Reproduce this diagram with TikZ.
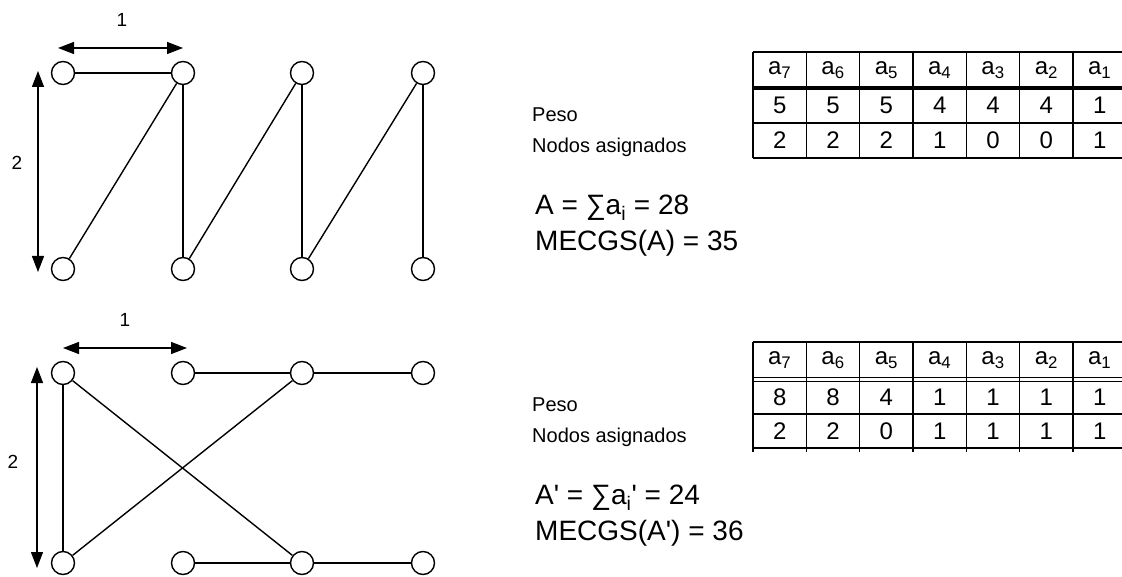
\documentclass[tikz,border=0pt]{standalone}
\usepackage{fontspec}
\setmainfont{Liberation Sans}[Ligatures=TeXOff]
\usetikzlibrary{arrows.meta}

\begin{document}
\begin{tikzpicture}[x=1pt, y=-1pt,
        vert/.style={circle, draw, line width=1.4pt, minimum size=23pt, inner sep=0pt, fill=white},
        edge/.style={line width=1.4pt},
        dim/.style={{Triangle[length=16pt,width=12pt]}-{Triangle[length=16pt,width=12pt]}, line width=1.4pt},
        lbl/.style={font=\fontsize{19}{19}\selectfont, inner sep=0pt},
        txt/.style={anchor=west, font=\fontsize{20}{24}\selectfont, inner sep=0pt},
        cell/.style={font=\fontsize{24}{24}\selectfont, inner sep=0pt},
        eq/.style={anchor=west, font=\fontsize{28}{30}\selectfont, inner sep=0pt},
        rule/.style={line width=1.6pt}
    ]
        \useasboundingbox (0,0) rectangle (1122,577);

        % Graph A
        \node[vert] (u1) at (63,73) {};
        \node[vert] (u2) at (183,73) {};
        \node[vert] (u3) at (302,73) {};
        \node[vert] (u4) at (423,73) {};
        \node[vert] (d1) at (63,269) {};
        \node[vert] (d2) at (183,269) {};
        \node[vert] (d3) at (302,269) {};
        \node[vert] (d4) at (423,269) {};

        \draw[edge] (u1) -- (u2);
        \draw[edge] (d1) -- (u2);
        \draw[edge] (u2) -- (d2);
        \draw[edge] (d2) -- (u3);
        \draw[edge] (u3) -- (d3);
        \draw[edge] (d3) -- (u4);
        \draw[edge] (u4) -- (d4);

        % Spacing of graph A
        \coordinate (ha1) at (58,48);
        \coordinate (ha2) at (183,48);
        \coordinate (va1) at (38,71);
        \coordinate (va2) at (38,272);
        \draw[dim] (ha1) -- (ha2);
        \draw[dim] (va1) -- (va2);
        \node[lbl] (wa) at (122,20) {1};
        \node[lbl] (ta) at (17,163) {2};

        % Graph A'
        \node[vert] (p1) at (63,373) {};
        \node[vert] (p2) at (183,373) {};
        \node[vert] (p3) at (302,373) {};
        \node[vert] (p4) at (423,373) {};
        \node[vert] (q1) at (63,563) {};
        \node[vert] (q2) at (183,563) {};
        \node[vert] (q3) at (302,563) {};
        \node[vert] (q4) at (423,563) {};

        \draw[edge] (p1) -- (q1);
        \draw[edge] (p1) -- (q3);
        \draw[edge] (q1) -- (p3);
        \draw[edge] (p2) -- (p3);
        \draw[edge] (p3) -- (p4);
        \draw[edge] (q2) -- (q3);
        \draw[edge] (q3) -- (q4);

        % Spacing of graph A'
        \coordinate (hb1) at (63,348);
        \coordinate (hb2) at (187,348);
        \coordinate (vb1) at (37,367);
        \coordinate (vb2) at (37,568);
        \draw[dim] (hb1) -- (hb2);
        \draw[dim] (vb1) -- (vb2);
        \node[lbl] (wb) at (125,320) {1};
        \node[lbl] (tb) at (13,462) {2};

        % Table for A
        \draw[rule] (753,52) -- (1122,52);
        \draw[line width=3.6pt] (753,88) -- (1122,88);
        \draw[rule] (753,123) -- (1122,123);
        \draw[rule] (753,158) -- (1122,158);
        \foreach \k in {0,...,6}
            \draw[rule] (753+53.33*\k,52) -- (753+53.33*\k,158);
        \foreach \v/\k in {7/0,6/1,5/2,4/3,3/4,2/5,1/6}
            \node[cell] (ha\v) at (779.7+53.33*\k,70) {a\textsubscript{\v}};
        \foreach \v [count=\k from 0] in {5,5,5,4,4,4,1}
            \node[cell] (wa\k) at (779.7+53.33*\k,105.5) {\v};
        \foreach \v [count=\k from 0] in {2,2,2,1,0,0,1}
            \node[cell] (na\k) at (779.7+53.33*\k,140.5) {\v};

        \node[txt] (pesoa) at (532,115) {Peso};
        \node[txt] (nodosa) at (532,147) {Nodos asignados};
        \node[eq] (suma) at (535,208) {A = ∑a\textsubscript{i} = 28};
        \node[eq] (meca) at (535,243) {MECGS(A) = 35};

        % Table for A'
        \draw[rule] (753,342) -- (1122,342);
        \draw[line width=1pt] (753,377) -- (1122,377);
        \draw[line width=1pt] (753,381) -- (1122,381);
        \draw[rule] (753,414) -- (1122,414);
        \draw[rule] (753,448) -- (1122,448);
        \foreach \k in {0,...,6}
            \draw[rule] (753+53.33*\k,342) -- (753+53.33*\k,452);
        \foreach \v/\k in {7/0,6/1,5/2,4/3,3/4,2/5,1/6}
            \node[cell] (hb\v) at (779.7+53.33*\k,360) {a\textsubscript{\v}};
        \foreach \v [count=\k from 0] in {8,8,4,1,1,1,1}
            \node[cell] (wb\k) at (779.7+53.33*\k,397.5) {\v};
        \foreach \v [count=\k from 0] in {2,2,0,1,1,1,1}
            \node[cell] (nb\k) at (779.7+53.33*\k,431) {\v};

        \node[txt] (pesob) at (532,405) {Peso};
        \node[txt] (nodosb) at (532,437) {Nodos asignados};
        \node[eq] (sumb) at (535,498) {A' = ∑a\textsubscript{i}' = 24};
        \node[eq] (mecb) at (535,533) {MECGS(A') = 36};
    \end{tikzpicture}
\end{document}
